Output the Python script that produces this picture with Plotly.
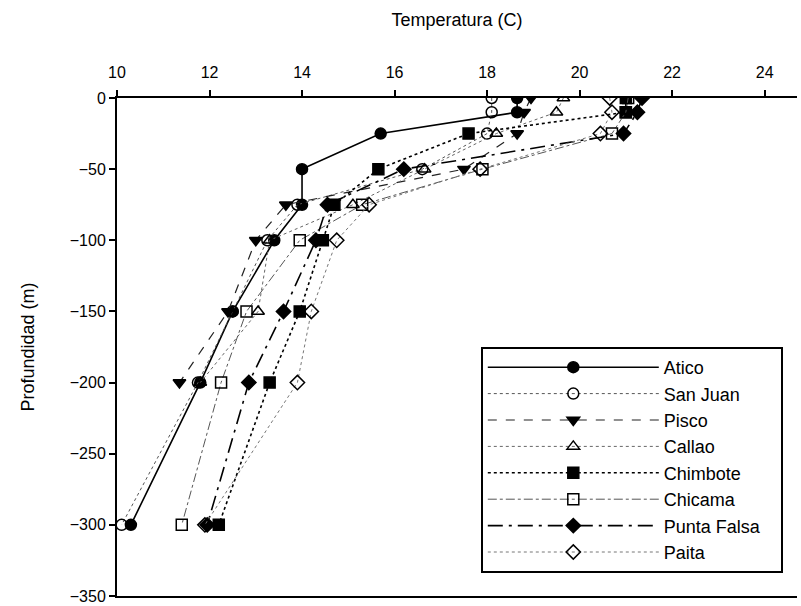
import plotly.graph_objects as go

depths = [0, -10, -25, -50, -75, -100, -150, -200, -300]

atico = [18.65, 18.65, 15.7, 14.0, 14.0, 13.4, 12.5, 11.8, 10.3]
san_juan = [18.1, 18.1, 18.0, 16.6, 13.9, 13.25, 12.5, 11.75, 10.1]
pisco = [18.95, 18.8, 18.65, 17.5, 13.65, 13.0, 12.4, 11.35]
callao = [19.65, 19.5, 18.2, 16.65, 15.1, 13.3, 13.05, 11.8]
chimbote = [21.0, 21.0, 17.6, 15.65, 14.7, 14.45, 13.95, 13.3, 12.2]
chicama = [21.05, 21.0, 20.7, 17.9, 15.3, 13.95, 12.8, 12.25, 11.4]
punta_falsa = [21.35, 21.25, 20.95, 16.2, 14.55, 14.3, 13.6, 12.85, 11.95]
paita = [20.65, 20.7, 20.45, 17.85, 15.45, 14.75, 14.2, 13.9, 11.9]

x_ticks = [10, 12, 14, 16, 18, 20, 22, 24]
y_ticks = [0, -50, -100, -150, -200, -250, -300, -350]

series = [
    ("Atico", atico, "circle", "black", "solid", 1.6),
    ("San Juan", san_juan, "circle-open", "#555", "dot", 1.0),
    ("Pisco", pisco, "triangle-down", "#222", "dash", 1.2),
    ("Callao", callao, "triangle-up-open", "#666", "dot", 1.0),
    ("Chimbote", chimbote, "square", "black", "dot", 1.6),
    ("Chicama", chicama, "square-open", "#555", "dashdot", 1.0),
    ("Punta Falsa", punta_falsa, "diamond", "black", "longdashdot", 1.6),
    ("Paita", paita, "diamond-open", "#777", "dot", 1.0),
]

fig = go.Figure()
for name, vals, sym, lc, dash, lw in series:
    # trailing non-breaking spaces on the longest label widen the legend box
    label = name + "\u00a0" * 3 if name == "Punta Falsa" else name
    fig.add_trace(go.Scatter(
        x=vals, y=depths[:len(vals)], name=label, mode="lines+markers",
        legendgroup=name,
        line=dict(color=lc, dash=dash, width=lw),
        marker=dict(symbol=sym, size=11, color="black",
                    line=dict(color="black", width=1.5)),
    ))

fnt = "Liberation Sans Narrow, Liberation Sans, Arial"
fig.update_layout(
    width=801, height=606,
    margin=dict(l=117, r=4, t=98, b=10),
    paper_bgcolor="white", plot_bgcolor="white",
    font=dict(family=fnt, size=16, color="black"),
    xaxis=dict(
        side="top", range=[10, 24.7], tickvals=x_ticks,
        ticks="outside", ticklen=6, tickwidth=1.5, tickcolor="black",
        showline=True, linecolor="black", linewidth=2, mirror=True,
        showgrid=False, zeroline=False, automargin=False,
        ticklabelstandoff=6,
        title=dict(text="Temperatura (C)", standoff=32,
                   font=dict(family=fnt, size=18)),
        tickfont=dict(family=fnt, size=16),
    ),
    yaxis=dict(
        range=[-350, 0], tickvals=y_ticks,
        ticks="outside", ticklen=6, tickwidth=1.5, tickcolor="black",
        showline=True, linecolor="black", linewidth=2,
        showgrid=False, zeroline=False, automargin=False,
        ticklabelstandoff=0,
        title=dict(text="Profundidad (m)", standoff=30,
                   font=dict(family=fnt, size=18)),
        tickfont=dict(family=fnt, size=16),
    ),
    legend=dict(
        x=0.535, y=0.5, xanchor="left", yanchor="top",
        bgcolor="white", bordercolor="black", borderwidth=2,
        font=dict(family="Liberation Sans, Arial", size=18),
        itemwidth=171, tracegroupgap=0,
    ),
)

fig.write_html("out.html", config={"displayModeBar": False},
               post_script="document.body.style.margin='0px';")
